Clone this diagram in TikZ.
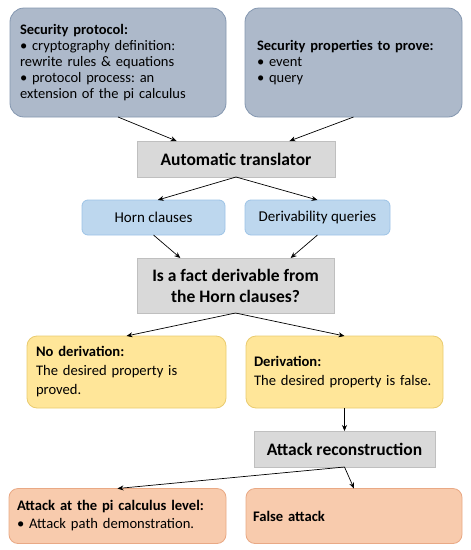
\documentclass[tikz,border=0pt]{standalone}
\usepackage{fontspec}
\setmainfont{Carlito}
\frenchspacing
\usetikzlibrary{arrows.meta,calc}
\definecolor{bgfill}{HTML}{ADB9CA}
\definecolor{bgdraw}{HTML}{8497B0}
\definecolor{lbfill}{HTML}{BDD7EE}
\definecolor{lbdraw}{HTML}{9DC3E6}
\definecolor{gyfill}{HTML}{D9D9D9}
\definecolor{gydraw}{HTML}{BFBFBF}
\definecolor{yefill}{HTML}{FFE699}
\definecolor{yedraw}{HTML}{E9CB6F}
\definecolor{orfill}{HTML}{F8CBAD}
\definecolor{ordraw}{HTML}{E9A985}
\tikzset{
  box/.style={draw, line width=0.8pt, inner sep=0pt, outer sep=0pt},
  bluegray/.style={box, fill=bgfill, draw=bgdraw, rounded corners=14pt, align=left,
    font=\fontsize{14.5}{16}\selectfont},
  lightblue/.style={box, fill=lbfill, draw=lbdraw, rounded corners=6pt,
    font=\fontsize{15}{17}\selectfont},
  graybox/.style={box, fill=gyfill, draw=gydraw, align=center,
    font=\fontsize{17.5}{21}\selectfont\bfseries},
  yellowbox/.style={box, fill=yefill, draw=yedraw, rounded corners=10pt, align=left,
    font=\fontsize{14.6}{19}\selectfont},
  orangebox/.style={box, fill=orfill, draw=ordraw, rounded corners=9pt, align=left,
    font=\fontsize{14.6}{18}\selectfont},
  arr/.style={-{Stealth[length=6pt,width=5pt]}, line width=0.7pt, black},
}
\begin{document}
\begin{tikzpicture}[x=1pt,y=-1pt]
\useasboundingbox (0,0) rectangle (471,550);
% top boxes
\node[bluegray, minimum width=216, minimum height=109, text width=196] (prot) at (118,62.5)
  {\textbf{Security protocol:}\\ • cryptography definition:\\ rewrite rules \& equations\\ • protocol process: an\\ extension of the pi calculus};
\node[bluegray, minimum width=217, minimum height=109, text width=193] (props) at (353.5,62.5)
  {\textbf{Security properties to prove:}\\ • event\\ • query};
% translator
\node[graybox, minimum width=198, minimum height=36] (trans) at (236,159) {Automatic translator};
% horn / queries
\node[lightblue, minimum width=143, minimum height=35] (horn) at (153.5,217.5) {Horn clauses};
\node[lightblue, minimum width=145, minimum height=35] (query) at (317.5,217.5) {Derivability queries};
% question
\node[graybox, minimum width=197, minimum height=55] (fact) at (235.5,285.5) {Is a fact derivable from\\ the Horn clauses?};
% results
\node[yellowbox, minimum width=199, minimum height=72, text width=181] (noder) at (126.5,372)
  {\textbf{No derivation:}\\ The desired property is\\ proved.};
\node[yellowbox, minimum width=197, minimum height=72, text width=181] (der) at (344.5,372)
  {\textbf{Derivation:}\\ The desired property is false.};
% attack reconstruction
\node[graybox, minimum width=181, minimum height=36] (recon) at (344.5,449) {Attack reconstruction};
% final
\node[orangebox, minimum width=217, minimum height=55, text width=201] (piatt) at (117.5,516)
  {\textbf{Attack at the pi calculus level:}\\ • Attack path demonstration.};
\node[orangebox, minimum width=216, minimum height=55, text width=202] (false) at (354,516)
  {\textbf{False attack}};
% connectors
\draw[arr] (prot.south) -- ($(trans.north west)!0.2!(trans.north east)$);
\draw[arr] (props.south) -- ($(trans.north west)!0.77!(trans.north east)$);
\draw[arr] (trans.south) -- ($(horn.north west)!0.53!(horn.north east)$);
\draw[arr] (trans.south) -- (query.north);
\draw[arr] (horn.south) -- ($(fact.north west)!0.22!(fact.north east)$);
\draw[arr] (query.south) -- ($(fact.north west)!0.78!(fact.north east)$);
\draw[arr] (fact.south) -- (noder.north);
\draw[arr] (fact.south) -- (der.north);
\draw[arr] (der.south) -- (recon.north);
\draw[arr] (recon.south) -- (piatt.north);
\draw[arr] (recon.south) -- (false.north);
\end{tikzpicture}
\end{document}
